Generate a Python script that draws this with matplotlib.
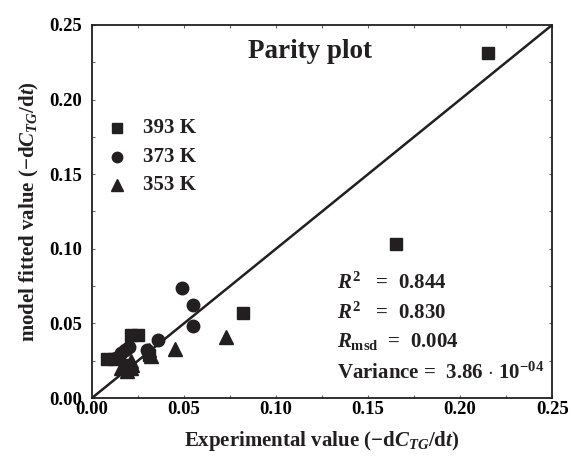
import matplotlib
matplotlib.use("Agg")
import matplotlib.pyplot as plt
import numpy as np

plt.rcParams['font.family'] = 'Liberation Serif'
plt.rcParams['font.weight'] = 'bold'
plt.rcParams['mathtext.fontset'] = 'custom'
plt.rcParams['mathtext.rm'] = 'Liberation Serif:bold'
plt.rcParams['mathtext.it'] = 'Liberation Serif:italic:bold'
plt.rcParams['mathtext.bf'] = 'Liberation Serif:bold'

# Data
exp_393 = [0.215, 0.165, 0.082, 0.021, 0.025, 0.008, 0.012, 0.031, 0.019]
mod_393 = [0.231, 0.103, 0.057, 0.042, 0.042, 0.026, 0.026, 0.029, 0.022]

exp_373 = [0.049, 0.055, 0.055, 0.036, 0.020, 0.013, 0.016, 0.018, 0.030]
mod_373 = [0.074, 0.062, 0.048, 0.039, 0.034, 0.027, 0.030, 0.032, 0.032]

exp_353 = [0.073, 0.045, 0.031, 0.032, 0.021, 0.016, 0.019, 0.021, 0.022]
mod_353 = [0.041, 0.033, 0.032, 0.028, 0.025, 0.020, 0.018, 0.020, 0.022]

ticks = [0.00, 0.05, 0.10, 0.15, 0.20, 0.25]
tick_labels = ["0.00", "0.05", "0.10", "0.15", "0.20", "0.25"]
stats = [r"$\mathit{R}^{2}$   =  0.844", r"$\mathit{R}^{2}$   =  0.830",
         r"$\mathit{R}_{\mathrm{msd}}$  =  0.004",
         r"Variance =  3.86 $\cdot$ 10$^{-04}$"]

C = '#231f20'
fig = plt.figure(figsize=(5.71, 4.62), dpi=100)
ax = fig.add_axes([0.161, 0.1385, 0.806, 0.8075])

ax.plot([0, 0.25], [0, 0.25], color=C, lw=1.8, zorder=1)
ax.plot(exp_393, mod_393, 's', color=C, ms=8, zorder=3)
ax.plot(exp_373, mod_373, 'o', color=C, ms=9, zorder=3)
ax.plot(exp_353, mod_353, '^', color=C, ms=9.5, zorder=3)

ax.set_xlim(0, 0.25)
ax.set_ylim(0, 0.25)
ax.set_xticks(ticks)
ax.set_xticklabels(tick_labels, fontsize=13.5, fontweight='bold')
ax.set_yticks(ticks)
ax.set_yticklabels(tick_labels, fontsize=13.5, fontweight='bold')
ax.set_xticks(np.arange(0.025, 0.25, 0.05), minor=True)
ax.set_yticks(np.arange(0.025, 0.25, 0.05), minor=True)
ax.tick_params(which='both', direction='in', top=True, right=True, length=2.5,
               width=0.8, color='#666666')
ax.tick_params(axis='x', pad=2)
ax.tick_params(axis='y', pad=7)
for s in ax.spines.values():
    s.set_linewidth(1.3)
    s.set_color(C)

ax.set_xlabel(r"Experimental value ($-$d$\mathit{C}_{\mathit{TG}}$/d$\mathit{t}$)",
              fontsize=15, fontweight='bold', labelpad=8, color=C)
ax.set_ylabel(r"model fitted value ($-$d$\mathit{C}_{\mathit{TG}}$/d$\mathit{t}$)",
              fontsize=15, fontweight='bold', labelpad=6, color=C)

ax.text(0.1185, 0.232, "Parity plot", fontsize=19.5, fontweight='bold',
        ha='center', va='center', color=C)

# legend
leg_labels = ["393 K", "373 K", "353 K"]
leg_markers = ['s', 'o', '^']
leg_sizes = [6.5, 7.5, 8]
leg_y = [0.181, 0.1616, 0.1428]
for lab, m, msz, yy in zip(leg_labels, leg_markers, leg_sizes, leg_y):
    ax.plot([0.0136], [yy], m, color=C, ms=msz, clip_on=False)
    ax.text(0.0277, yy, lab, fontsize=15, fontweight='bold', va='center',
            color=C)

stat_y = [0.0771, 0.0570, 0.0382, 0.0168]
for s, yy in zip(stats, stat_y):
    ax.text(0.1332, yy, s, fontsize=15, fontweight='bold', va='center',
            color=C)

fig.savefig("out.png", dpi=100)
